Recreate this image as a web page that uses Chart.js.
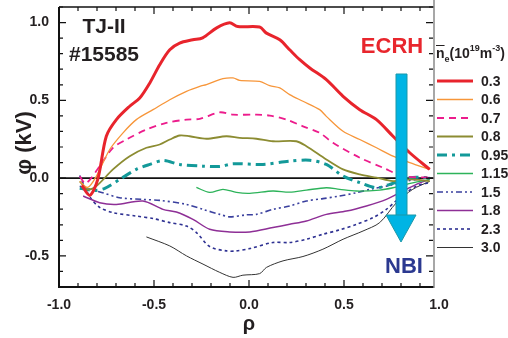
<!DOCTYPE html>
<html>
<head>
<meta charset="utf-8">
<script src="https://cdn.jsdelivr.net/npm/chart.js@4/dist/chart.umd.min.js"></script>
<style>
  html, body { margin: 0; padding: 0; background: #fff; }
  #wrap { width: 508px; height: 338px; }
</style>
</head>
<body>
<div id="wrap"><canvas id="myChart" width="508" height="338"></canvas></div>
<script>
// line-averaged density labels (10^19 m^-3)
const densities = ['0.3', '0.6', '0.7', '0.8', '0.95', '1.15', '1.5', '1.8', '2.3', '3.0'];

// potential profiles, rho vs phi (kV)
const rho03 = [-0.88, -0.838, -0.796, -0.751, -0.698, -0.628, -0.575, -0.522, -0.47, -0.417, -0.365, -0.296, -0.244, -0.17, -0.102, -0.059, 0.056, 0.092, 0.162, 0.214, 0.267, 0.32, 0.407, 0.495, 0.583, 0.671, 0.758, 0.846, 0.951];
const phi03 = [-0.047, -0.111, -0.008, 0.269, 0.376, 0.462, 0.515, 0.612, 0.729, 0.825, 0.868, 0.889, 0.902, 0.966, 0.998, 0.974, 0.971, 0.932, 0.889, 0.825, 0.761, 0.708, 0.633, 0.526, 0.44, 0.376, 0.269, 0.163, 0.056];

const rho06 = [-0.891, -0.849, -0.803, -0.733, -0.663, -0.593, -0.505, -0.417, -0.329, -0.259, -0.224, -0.137, -0.084, -0.049, 0.056, 0.109, 0.162, 0.214, 0.284, 0.372, 0.407, 0.495, 0.583, 0.671, 0.758, 0.846, 0.951];
const phi06 = [-0.021, -0.06, 0.013, 0.184, 0.291, 0.376, 0.44, 0.504, 0.558, 0.59, 0.601, 0.639, 0.644, 0.628, 0.622, 0.594, 0.58, 0.537, 0.494, 0.44, 0.397, 0.301, 0.248, 0.195, 0.141, 0.099, 0.056];

const rho07 = [-0.891, -0.859, -0.786, -0.716, -0.645, -0.54, -0.435, -0.329, -0.259, -0.154, -0.084, 0.039, 0.109, 0.197, 0.284, 0.372, 0.442, 0.583, 0.705, 0.811, 0.951];
const phi07 = [0.011, -0.034, 0.077, 0.195, 0.248, 0.312, 0.355, 0.376, 0.381, 0.423, 0.408, 0.408, 0.402, 0.376, 0.333, 0.291, 0.227, 0.131, 0.067, 0.013, 0.004];

const rho08 = [-0.891, -0.849, -0.803, -0.716, -0.628, -0.54, -0.47, -0.417, -0.365, -0.312, -0.224, -0.119, -0.049, 0.039, 0.126, 0.249, 0.302, 0.407, 0.495, 0.583, 0.671, 0.758, 0.846, 0.951];
const phi08 = [-0.021, -0.072, -0.051, 0.056, 0.141, 0.195, 0.216, 0.248, 0.274, 0.269, 0.253, 0.269, 0.259, 0.253, 0.237, 0.237, 0.205, 0.12, 0.056, 0.024, 0.003, -0.019, -0.008, -0.019];

const rho095 = [-0.891, -0.812, -0.759, -0.68, -0.593, -0.522, -0.452, -0.365, -0.244, -0.154, -0.084, 0.074, 0.214, 0.319, 0.407, 0.495, 0.583, 0.671, 0.741, 0.846, 0.951];
const phi095 = [-0.066, -0.079, -0.066, -0.008, 0.056, 0.088, 0.113, 0.088, 0.077, 0.075, 0.092, 0.088, 0.109, 0.115, 0.088, 0.013, -0.029, -0.062, -0.04, 0.003, 0.003];

const rho115 = [-0.277, -0.207, -0.137, -0.066, 0.004, 0.126, 0.214, 0.302, 0.407, 0.477, 0.565, 0.688, 0.758, 0.828, 0.951];
const phi115 = [-0.06, -0.092, -0.072, -0.092, -0.098, -0.083, -0.09, -0.077, -0.062, -0.072, -0.083, -0.077, -0.062, -0.04, -0.008];

const rho15 = [-0.891, -0.838, -0.77, -0.681, -0.558, -0.47, -0.329, -0.242, -0.154, -0.102, -0.014, 0.039, 0.126, 0.214, 0.302, 0.389, 0.477, 0.565, 0.653, 0.741, 0.828, 0.951];
const phi15 = [-0.053, -0.072, -0.094, -0.126, -0.137, -0.143, -0.169, -0.201, -0.233, -0.249, -0.236, -0.233, -0.201, -0.179, -0.147, -0.132, -0.115, -0.094, -0.068, -0.047, -0.019, 0.003];

const rho18 = [-0.873, -0.786, -0.698, -0.558, -0.453, -0.382, -0.295, -0.207, -0.102, 0.004, 0.126, 0.214, 0.302, 0.407, 0.513, 0.618, 0.723, 0.793, 0.881, 0.951];
const phi18 = [-0.115, -0.158, -0.169, -0.147, -0.201, -0.218, -0.265, -0.329, -0.346, -0.346, -0.318, -0.297, -0.276, -0.233, -0.212, -0.179, -0.137, -0.094, -0.04, -0.008];

const rho23 = [-0.891, -0.859, -0.828, -0.786, -0.716, -0.593, -0.505, -0.417, -0.329, -0.277, -0.207, -0.119, -0.066, 0.004, 0.126, 0.214, 0.302, 0.389, 0.477, 0.565, 0.653, 0.723, 0.793, 0.881, 0.951];
const phi23 = [0.017, -0.072, -0.137, -0.188, -0.222, -0.244, -0.26, -0.286, -0.308, -0.35, -0.44, -0.468, -0.468, -0.453, -0.414, -0.414, -0.393, -0.361, -0.333, -0.297, -0.254, -0.201, -0.126, -0.051, -0.029];

const rho30 = [-0.54, -0.417, -0.329, -0.242, -0.154, -0.084, -0.032, 0.056, 0.092, 0.179, 0.284, 0.389, 0.495, 0.6, 0.688, 0.776, 0.862, 0.951];
const phi30 = [-0.378, -0.436, -0.5, -0.553, -0.606, -0.638, -0.624, -0.614, -0.574, -0.532, -0.504, -0.457, -0.393, -0.34, -0.286, -0.158, -0.072, -0.021];

const rhoSets = [rho03, rho06, rho07, rho08, rho095, rho115, rho15, rho18, rho23, rho30];
const phiSets = [phi03, phi06, phi07, phi08, phi095, phi115, phi15, phi18, phi23, phi30];

// axis tick labels
const xTicks = [-1.0, -0.5, 0.0, 0.5, 1.0];
const yTicks = [-0.5, 0.0, 0.5, 1.0];

// line styles per density
const colors = ['#e8242c', '#f7963a', '#ec1c8c', '#8c8c32', '#139999', '#2db35a', '#3a409e', '#8e2f96', '#2e3192', '#333333'];
const widths = [3, 1.3, 1.8, 1.8, 3, 1.3, 1.6, 1.5, 1.6, 1];
const dashes = [[], [], [7, 5], [], [10, 5, 3, 5], [], [6, 3, 2, 3, 2, 3], [], [3, 3], []];

const datasets = densities.map((d, i) => ({
  label: d,
  data: rhoSets[i].map((r, k) => ({ x: r, y: phiSets[i][k] })),
  borderColor: colors[i],
  borderWidth: widths[i],
  borderDash: dashes[i],
  pointRadius: 0,
  tension: 0.3,
  fill: false
}));

const FONT = 'Liberation Sans, Arial, sans-serif';

const decor = {
  id: 'decor',
  beforeDatasetsDraw(chart) {
    const ctx = chart.ctx, x = chart.scales.x, y = chart.scales.y;
    const y0 = y.getPixelForValue(0);
    ctx.save();
    ctx.strokeStyle = '#111';
    ctx.lineWidth = 1.8;
    ctx.beginPath();
    ctx.moveTo(x.left, y0);
    ctx.lineTo(434, y0);
    ctx.stroke();
    ctx.restore();
  },
  afterDatasetsDraw(chart) {
    const ctx = chart.ctx, x = chart.scales.x, y = chart.scales.y;
    const L = x.left, R = 434, T = y.top, B = y.bottom;
    ctx.save();

    // frame
    ctx.strokeStyle = '#111';
    ctx.lineWidth = 2;
    ctx.beginPath();
    ctx.moveTo(L, T); ctx.lineTo(L, B); ctx.lineTo(R, B);
    ctx.stroke();
    ctx.lineWidth = 1.5;
    ctx.beginPath();
    ctx.moveTo(L, T); ctx.lineTo(R, T);
    ctx.stroke();

    // ticks, inward
    ctx.lineWidth = 1.2;
    for (let i = -10; i <= 10; i++) {
      const v = i / 10, px = x.getPixelForValue(v);
      if (px > R - 1) continue;
      const len = i % 5 === 0 ? 7 : 4;
      ctx.beginPath();
      ctx.moveTo(px, B); ctx.lineTo(px, B - len);
      ctx.moveTo(px, T); ctx.lineTo(px, T + len);
      ctx.stroke();
    }
    for (let i = -7; i <= 11; i++) {
      const v = i / 10, py = y.getPixelForValue(v);
      const len = i % 5 === 0 ? 7 : 4;
      ctx.beginPath();
      ctx.moveTo(L, py); ctx.lineTo(L + len, py);
      ctx.moveTo(R - 1, py); ctx.lineTo(R - 1 - len, py);
      ctx.stroke();
    }

    // axis titles
    ctx.fillStyle = '#231f20';
    ctx.textAlign = 'center';
    ctx.textBaseline = 'middle';
    ctx.font = 'bold 20px ' + FONT;
    ctx.fillText('ρ', x.getPixelForValue(0), 324);
    ctx.save();
    ctx.translate(25, 143);
    ctx.rotate(-Math.PI / 2);
    ctx.font = 'bold 22px ' + FONT;
    ctx.fillText('φ (kV)', 0, 0);
    ctx.restore();

    // shot label
    ctx.font = 'bold 21px ' + FONT;
    ctx.fillText('TJ-II', 104, 27);
    ctx.fillText('#15585', 104, 55);

    // heating labels
    ctx.font = 'bold 22px ' + FONT;
    ctx.fillStyle = '#e8262d';
    ctx.fillText('ECRH', 392, 47);
    ctx.fillStyle = '#2b3990';
    ctx.fillText('NBI', 404, 267);

    // arrow
    ctx.fillStyle = '#00b4e4';
    ctx.strokeStyle = '#1b97a8';
    ctx.lineWidth = 1;
    ctx.beginPath();
    ctx.rect(396, 74, 11, 142);
    ctx.fill(); ctx.stroke();
    ctx.beginPath();
    ctx.moveTo(386, 215); ctx.lineTo(416, 215); ctx.lineTo(401, 242); ctx.closePath();
    ctx.fill(); ctx.stroke();

    // legend box
    ctx.fillStyle = '#fff';
    ctx.fillRect(R + 0.5, 0, 508 - R, B + 2);
    ctx.strokeStyle = '#8a8a8a';
    ctx.lineWidth = 1.5;
    ctx.beginPath();
    ctx.moveTo(R, 0); ctx.lineTo(R, B + 1);
    ctx.stroke();

    // legend title: n̄e(10^19 m^-3)
    ctx.fillStyle = '#231f20';
    ctx.textAlign = 'left';
    ctx.textBaseline = 'alphabetic';
    const big = 'bold 14px ' + FONT, small = 'bold 9px ' + FONT;
    let cx = 436;
    const base = 58;
    ctx.font = big;
    ctx.fillText('n', cx, base);
    const nw = ctx.measureText('n').width;
    ctx.strokeStyle = '#231f20';
    ctx.lineWidth = 1;
    ctx.beginPath(); ctx.moveTo(cx, 45.5); ctx.lineTo(cx + nw, 45.5); ctx.stroke();
    cx += nw;
    ctx.font = small; ctx.fillText('e', cx, base + 4); cx += ctx.measureText('e').width;
    ctx.font = big; ctx.fillText('(10', cx, base); cx += ctx.measureText('(10').width;
    ctx.font = small; ctx.fillText('19', cx, base - 7); cx += ctx.measureText('19').width;
    ctx.font = big; ctx.fillText('m', cx, base); cx += ctx.measureText('m').width;
    ctx.font = small; ctx.fillText('-3', cx, base - 7); cx += ctx.measureText('-3').width;
    ctx.font = big; ctx.fillText(')', cx, base);

    // legend rows
    ctx.textBaseline = 'middle';
    ctx.font = 'bold 14px ' + FONT;
    chart.data.datasets.forEach((ds, i) => {
      const ly = 81 + i * 18.5;
      ctx.strokeStyle = ds.borderColor;
      ctx.lineWidth = ds.borderWidth;
      ctx.setLineDash(ds.borderDash);
      ctx.beginPath(); ctx.moveTo(437, ly); ctx.lineTo(473, ly); ctx.stroke();
      ctx.setLineDash([]);
      ctx.fillStyle = '#231f20';
      ctx.fillText(ds.label, 481, ly + 1);
    });

    ctx.restore();
  }
};

const ctx = document.getElementById('myChart').getContext('2d');
const myChart = new Chart(ctx, {
  type: 'line',
  data: { datasets: datasets },
  options: {
    responsive: false,
    animation: false,
    layout: { padding: { top: 7, right: 69, left: 0, bottom: 0 } },
    plugins: { legend: { display: false }, tooltip: { enabled: false } },
    scales: {
      x: {
        type: 'linear',
        min: -1, max: 1,
        afterBuildTicks: s => { s.ticks = xTicks.map(v => ({ value: v })); },
        afterFit: s => { s.height = 51; s.paddingLeft = 0; s.paddingRight = 0; },
        grid: { display: false },
        border: { display: false },
        ticks: {
          padding: 2,
          color: '#231f20',
          font: { family: FONT, size: 14, weight: 'bold' },
          callback: v => v.toFixed(1)
        }
      },
      y: {
        min: -0.7, max: 1.1,
        afterBuildTicks: s => { s.ticks = yTicks.map(v => ({ value: v })); },
        afterFit: s => { s.width = 59; s.paddingTop = 0; s.paddingBottom = 0; },
        grid: { display: false },
        border: { display: false },
        ticks: {
          padding: 2,
          color: '#231f20',
          font: { family: FONT, size: 14, weight: 'bold' },
          callback: v => v.toFixed(1)
        }
      }
    }
  },
  plugins: [decor]
});
</script>
</body>
</html>
